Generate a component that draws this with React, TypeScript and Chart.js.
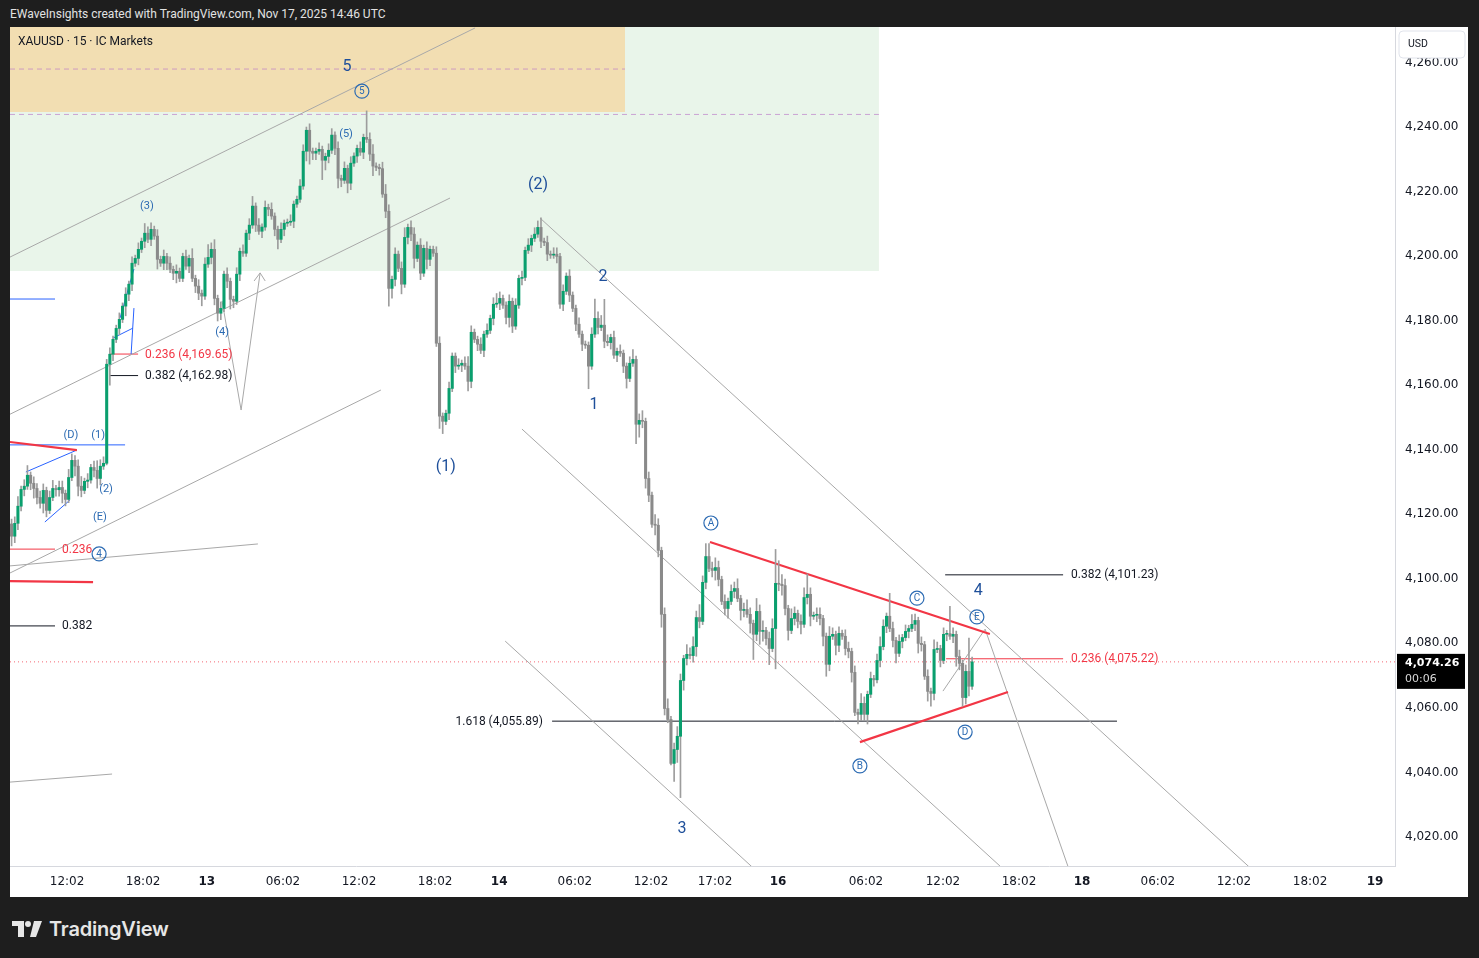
import React, { useEffect, useRef } from 'react';
import { Chart, registerables } from 'chart.js';

Chart.register(...registerables);

// ---------- data (15-minute XAUUSD candles, slot = bar index) ----------
const firstOpen = 4117.0;
const closes = [
  // A
  4113.2, 4117.2, 4122.5, 4127.7, 4128.7, 4132.1, 4129.6, 4128.0, 4125.2, 4123.4, 4127.4, 4121.2, 4125.2, 4128.0, 4127.6, 4128.3, 4126.5, 4124.6, 4131.4, 4136.7, 4134.9, 4128.7, 4127.4, 4130.2, 4130.6, 4134.5, 4133.6, 4131.1, 4134.9, 4135.8, 4166.5,
  // B
  4169.6, 4174.2, 4177.6, 4180.4, 4184.5, 4188.2, 4191.3, 4197.8, 4199.3, 4202.1, 4204.6, 4207.1, 4205.2, 4208.3, 4206.2, 4199.0, 4197.8, 4199.9, 4197.8, 4195.9, 4194.7, 4195.3, 4193.1, 4199.9,
  // C
  4196.9, 4199.3, 4193.1, 4190.7, 4188.5, 4187.6, 4197.5, 4199.6, 4202.1, 4186.9, 4182.3, 4183.8, 4194.4, 4192.2, 4186.6, 4186.0, 4194.4, 4201.5, 4200.9, 4207.1, 4209.6, 4215.5, 4209.6, 4207.7, 4209.0, 4215.1, 4214.5, 4212.4, 4208.3, 4205.2, 4208.3, 4210.2, 4210.5, 4210.8, 4216.1, 4217.6, 4221.7, 4232.5, 4239.0, 4232.5, 4231.9, 4232.5, 4233.1, 4229.7, 4230.9, 4232.8, 4237.5, 4233.4,
  // D
  4224.1, 4223.5, 4227.2, 4222.6, 4228.8, 4231.0, 4233.4, 4232.2, 4236.8, 4236.2, 4231.6, 4227.9, 4227.5, 4227.1, 4219.2, 4213.9, 4190.0, 4192.8, 4200.6, 4196.2, 4191.3, 4205.8, 4208.9, 4206.8, 4199.3, 4203.4, 4194.7, 4202.4, 4199.0, 4202.1, 4200.9, 4173.0, 4150.4, 4148.8, 4151.3, 4159.0, 4169.0, 4165.9, 4166.2, 4166.8, 4165.9, 4161.2, 4176.4, 4174.2, 4172.7, 4170.8, 4175.8, 4177.0, 4180.7, 4185.1, 4185.4, 4186.9, 4184.8, 4181.0,
  // E
  4186.0, 4178.3, 4184.8, 4193.1, 4193.4, 4201.8, 4203.4, 4205.5, 4206.8, 4208.9, 4204.6, 4204.2, 4200.6, 4200.3, 4200.6, 4199.9, 4185.1, 4189.1, 4193.8, 4187.9, 4183.8, 4178.9, 4175.8, 4172.7, 4172.4, 4165.9, 4175.8, 4180.7, 4177.9, 4178.6, 4173.6, 4173.2, 4174.8, 4169.3, 4170.5, 4169.9, 4165.9, 4162.1, 4166.8, 4168.0, 4147.9, 4149.1, 4148.8, 4131.1,
  // F
  4125.9, 4116.9, 4116.6, 4108.8, 4089.0, 4059.8, 4056.4, 4042.8, 4047.1, 4051.2, 4068.5, 4075.3, 4076.6, 4076.2, 4079.0, 4088.0, 4086.8, 4098.9, 4106.9, 4103.2, 4102.6, 4103.5, 4099.8, 4093.0, 4090.8, 4093.0, 4096.1,
  // G
  4097.0, 4093.9, 4090.2, 4090.5, 4089.0, 4086.2, 4082.8, 4089.9, 4083.7, 4084.0, 4081.5, 4078.4, 4084.6, 4098.6, 4098.3, 4097.9, 4090.8, 4084.0, 4087.7, 4089.3, 4086.8, 4085.9, 4094.2, 4095.2, 4088.4, 4088.7, 4089.0, 4087.7, 4082.2, 4073.5, 4082.2, 4082.8, 4079.4, 4083.1, 4082.2, 4078.4,
  // H
  4077.5, 4071.0, 4058.6, 4058.0, 4061.4, 4058.0, 4064.2, 4069.1, 4068.7, 4074.7, 4079.0, 4085.3, 4088.4, 4084.6, 4080.9, 4076.9, 4080.6, 4081.8, 4083.7, 4084.6, 4085.9, 4087.1, 4080.0, 4079.6, 4069.8, 4065.1, 4064.5, 4078.1, 4078.4, 4074.7, 4082.8, 4083.0, 4082.2, 4082.8, 4075.9, 4073.8, 4063.2, 4071.3, 4066.7, 4074.26,
];
const wickUp = [
  1.5, 2, 3, 1, 2, 3, 1, 2, 1.5, 2, 2, 1, 2, 2.5, 1, 2, 2, 1, 2.5, 2, 1.5, 2, 3, 1, 2, 1, 2, 3, 2, 2, 1.5,
  2, 1, 1, 2, 1, 2, 1, 2, 1, 2, 1, 3, 2, 2, 1, 2, 1, 2, 1, 2, 1, 2, 1, 1,
  2, 1, 3, 1, 2, 1, 2, 4, 2, 3, 1, 2, 1, 2, 1, 1, 2, 1, 2, 1, 2, 3, 1, 2, 1, 2, 1, 2, 1, 1, 2, 1, 1, 2, 1, 1, 2, 2, 1, 2, 1, 1, 2, 1, 1, 2, 2, 1,
  2, 1, 2, 1, 2, 1, 1, 2, 1, 8.2, 2, 3, 1, 1, 2, 3, 2, 1, 2, 1, 2, 3, 1, 2, 2, 1, 2, 1, 2, 1, 1, 2, 2, 1, 1, 2, 1, 1, 2, 1, 2, 3, 2, 1, 1, 2, 1, 2, 1, 2, 3, 2, 1, 1,
  2, 1, 2, 1, 2, 1, 2, 1, 2, 2, 3, 1, 2, 1, 2, 2, 1, 2, 1, 2, 1, 1, 2, 1, 1, 1, 2, 6, 2, 3, 8, 2, 1, 2, 1, 2, 1, 1, 2, 3, 1, 2, 3, 1,
  2, 1, 3, 2, 1, 2, 3, 1, 2, 3, 2, 1, 3, 2, 3, 2, 4, 2, 4, 4, 2, 3, 2, 1, 2, 1, 2,
  2, 3, 1, 2, 3, 2, 1, 4, 2, 3, 1, 2, 3, 10.5, 7, 3, 2, 1, 3, 2, 1, 2, 3, 6.3, 2, 1, 2, 2, 1, 1, 3, 2, 1, 2, 1, 2,
  2, 1, 2, 1, 3, 2, 1, 2, 1, 2, 3, 2, 1, 7.1, 2, 1, 2, 1, 2, 1, 3, 2, 1, 2, 1, 2, 1, 3, 2, 1, 2, 1, 8.5, 2, 1, 2, 1, 2, 10.3, 1.5,
];
const wickDn = [
  3, 2, 2, 1.5, 2, 1, 2, 3, 2, 1.5, 3, 2, 1, 1, 2, 2, 3, 2, 1, 1, 3, 3, 2, 1, 2, 1, 2, 3, 2, 1, 0.5,
  6.5, 2, 1, 2, 1, 3, 2, 2, 1, 2, 1, 2, 1, 2, 1, 3, 1, 2, 2, 1, 2, 3, 1, 1,
  1, 2, 1, 2, 2, 3, 1, 1, 2, 2, 2.4, 2, 1, 2, 3, 2, 1, 2, 1, 1, 2, 1, 2, 1, 2, 1, 2, 1, 2, 3, 1, 2, 1, 1, 2, 1, 1, 1, 3, 4, 2, 2, 1, 6, 3, 2, 1, 2,
  3, 2, 1, 3, 2, 1, 2, 1, 2, 1, 2, 3, 1, 2, 1, 2, 5.5, 3, 2, 1, 3, 1, 2, 2, 3, 1, 2, 1, 3, 2, 1, 1, 3.8, 3.8, 1, 2, 1, 2, 1, 2, 1, 3, 2, 1, 2, 1, 2, 1, 1, 2, 1, 2, 1, 2,
  3, 2, 1, 1, 2, 1, 1, 2, 1, 1, 2, 1, 2, 1, 1, 2, 1.3, 2, 1, 2, 1, 2, 1, 2, 1, 7, 1, 1, 2, 1, 2, 1, 2, 1, 2, 1, 2, 3, 1, 1, 6, 4, 2, 3,
  2, 1, 3, 2, 4, 2, 1, 0.5, 5.6, 4, 19, 3, 2, 1, 2, 3, 2, 1, 2, 1, 2, 3, 2, 1, 2, 3, 1,
  2, 1, 3, 2, 1, 3, 7.8, 2, 4, 3, 2, 5, 1, 12.5, 2, 3, 2, 3, 1, 2, 2, 3, 1, 2, 3, 1, 2, 2, 3, 3.7, 2, 1, 3, 2, 1, 2,
  2, 3, 1, 3, 2, 2, 3, 1, 2, 1, 2, 1, 2, 1, 2, 3, 1, 2, 1, 2, 1, 2, 3, 2, 1, 3, 4, 2, 1, 2, 1, 2, 1, 2, 3, 2, 2.7, 2, 3, 1,
];

const timeTickSlots = [18.0, 42.0, 62.1, 86.1, 110.1, 134.1, 154.3, 178.2, 202.2, 222.4, 242.3, 270.0, 294.3, 318.3, 338.2, 362.1, 386.1, 410.1, 430.6];
const timeTickLabels = ['12:02', '18:02', '13', '06:02', '12:02', '18:02', '14', '06:02', '12:02', '17:02', '16', '06:02', '12:02', '18:02', '18', '06:02', '12:02', '18:02', '19'];
const dayLabels = ['13', '14', '16', '18', '19'];
const priceTicks = [4020, 4040, 4060, 4080, 4100, 4120, 4140, 4160, 4180, 4200, 4220, 4240, 4260];
const priceMin = 4011.0;
const priceMax = 4271.0;
const slotMax = 436.9;
const lastPrice = 4074.26;
const countdown = '00:06';

// zones [x0, x1, priceLow, priceHigh]
const greenZone = [0, 274.1, 4195.4, 4290];
const orangeZone = [0, 194.0, 4244.65, 4290];
// dashed levels [x0, price, x1, price]
const dashedLevels = [
  [0, 4257.97, 194.0, 4257.97],
  [0, 4243.9, 274.1, 4243.9],
];
// segments [x0, p0, x1, p1]
const grayLines = [
  [0, 4199.7, 146.7, 4270.7],
  [0, 4151.0, 138.8, 4218.0],
  [0, 4101.8, 117.0, 4158.5],
  [0, 4104.0, 78.2, 4110.8],
  [0, 4037.0, 32.2, 4039.5],
  [66.9, 4186.1, 72.9, 4152.3],
  [72.9, 4152.3, 78.9, 4194.8],
  [78.9, 4194.8, 77.0, 4192.3],
  [78.9, 4194.8, 80.5, 4192.3],
  [167.2, 4211.8, 390.9, 4010.7],
  [161.5, 4146.4, 312.6, 4010.7],
  [156.2, 4080.7, 234.1, 4010.7],
  [294.3, 4065.2, 307.6, 4084.4],
  [307.6, 4084.4, 333.8, 4010.7],
];
const redThick = [
  [220.8, 4111.4, 309.1, 4082.9],
  [268.1, 4049.4, 314.8, 4064.9],
  [0, 4142.4, 21.1, 4139.9],
  [0, 4099.3, 26.2, 4099.0],
];
const redFib = [
  [31.5, 4169.65, 40.4, 4169.65],
  [0, 4109.2, 14.2, 4109.2],
  [295.3, 4075.22, 332.2, 4075.22],
];
const blackFib = [
  [31.5, 4162.98, 40.4, 4162.98],
  [0, 4085.4, 14.2, 4085.4],
  [171.0, 4055.89, 349.2, 4055.89],
  [295.0, 4101.23, 332.2, 4101.23],
];
const blueLines = [
  [0, 4186.7, 14.2, 4186.7],
  [0, 4141.5, 36.3, 4141.5],
  [5.0, 4133.1, 21.1, 4139.9],
  [11.0, 4117.6, 18.9, 4124.4],
  [34.7, 4180.8, 39.1, 4196.0],
  [32.5, 4174.6, 38.8, 4177.7],
  [39.1, 4183.9, 38.2, 4169.6],
];
// fib text [x, price, text, colour, align]
const fibTexts: any[] = [
  [42.6, 4169.65, '0.236 (4,169.65)', '#f23645', 'left'],
  [42.6, 4162.98, '0.382 (4,162.98)', '#131722', 'left'],
  [16.4, 4109.2, '0.236', '#f23645', 'left'],
  [16.4, 4085.4, '0.382', '#131722', 'left'],
  [168.1, 4055.89, '1.618 (4,055.89)', '#131722', 'right'],
  [334.7, 4101.23, '0.382 (4,101.23)', '#131722', 'left'],
  [334.7, 4075.22, '0.236 (4,075.22)', '#f23645', 'left'],
];
// wave labels [x, price, text]
const bigWaves: any[] = [
  [106.3, 4258.6, '5'], [166.6, 4222.0, '(2)'], [187.1, 4193.5, '2'], [184.2, 4153.9, '1'],
  [137.5, 4134.6, '(1)'], [212.0, 4022.5, '3'], [305.4, 4096.2, '4'],
];
const smallWaves: any[] = [
  [106.0, 4237.8, '(5)'], [43.2, 4215.5, '(3)'], [66.9, 4176.5, '(4)'], [19.2, 4144.6, '(D)'],
  [27.8, 4144.6, '(1)'], [30.3, 4127.8, '(2)'], [28.4, 4119.2, '(E)'],
];
const circledWaves: any[] = [
  [111.0, 4251.1, '5'], [28.1, 4107.7, '4'], [221.1, 4117.3, 'A'], [268.1, 4042.0, 'B'],
  [286.1, 4094.0, 'C'], [301.3, 4052.5, 'D'], [305.0, 4088.2, 'E'],
];

const UP = '#0a9f6e';
const DOWN = '#8a8a8a';
const WICK = '#9d9d9d';

function seg(s: number[], color: string, width = 1, dash: number[] = [], order = 5) {
  return {
    type: 'line',
    data: [{ x: s[0], y: s[1] }, { x: s[2], y: s[3] }],
    borderColor: color,
    borderWidth: width,
    borderDash: dash,
    pointRadius: 0,
    pointHoverRadius: 0,
    fill: false,
    tension: 0,
    order,
  };
}

function zone(z: number[], color: string, order: number) {
  return {
    type: 'line',
    data: [{ x: z[0], y: z[3] }, { x: z[1], y: z[3] }],
    borderWidth: 0,
    borderColor: 'rgba(0,0,0,0)',
    backgroundColor: color,
    pointRadius: 0,
    pointHoverRadius: 0,
    fill: { value: z[2] },
    order,
  };
}

const overlayPlugin = {
  id: 'overlay',
  afterDatasetsDraw(chart: any) {
    const { ctx, scales } = chart;
    const X = (v: number) => scales.x.getPixelForValue(v);
    const Y = (v: number) => scales.y.getPixelForValue(v);
    ctx.save();
    ctx.textBaseline = 'middle';
    ctx.textAlign = 'left';
    ctx.fillStyle = '#131722';
    ctx.font = '12px Roboto';
    ctx.fillText('XAUUSD · 15 · IC Markets', 8, 15);

    ctx.font = '12px Roboto';
    fibTexts.forEach(([x, p, t, c, a]) => {
      ctx.fillStyle = c;
      ctx.textAlign = a;
      ctx.fillText(t, X(x), Y(p) + 0.5);
    });

    ctx.textAlign = 'center';
    ctx.fillStyle = '#1e4f9a';
    ctx.font = '16px Roboto';
    bigWaves.forEach(([x, p, t]) => ctx.fillText(t, X(x), Y(p)));
    ctx.fillStyle = '#2c6bb3';
    ctx.font = '11px Roboto';
    smallWaves.forEach(([x, p, t]) => ctx.fillText(t, X(x), Y(p)));
    circledWaves.forEach(([x, p, t]) => {
      const cx = X(x), cy = Y(p);
      ctx.beginPath();
      ctx.arc(cx, cy, 7, 0, Math.PI * 2);
      ctx.strokeStyle = '#2c6bb3';
      ctx.lineWidth = 1.2;
      ctx.stroke();
      ctx.fillStyle = '#2c6bb3';
      ctx.font = '10px Roboto';
      ctx.fillText(t, cx, cy + 0.5);
    });
    ctx.restore();
  },
  afterDraw(chart: any) {
    const { ctx, scales, chartArea } = chart;
    const py = scales.y.getPixelForValue(lastPrice);
    ctx.save();
    // USD box
    const bx = chartArea.right + 4, by = 4, bw = 66, bh = 27;
    ctx.beginPath();
    ctx.roundRect(bx, by, bw, bh, 4);
    ctx.fillStyle = '#ffffff';
    ctx.fill();
    ctx.strokeStyle = '#e0e3eb';
    ctx.lineWidth = 1;
    ctx.stroke();
    ctx.fillStyle = '#131722';
    ctx.font = '10.5px Roboto';
    ctx.textBaseline = 'middle';
    ctx.textAlign = 'left';
    ctx.fillText('USD', bx + 9, by + 13);
    // last price box
    ctx.fillStyle = '#000000';
    ctx.fillRect(chartArea.right + 2, py - 8, 68, 35);
    ctx.fillStyle = '#ffffff';
    ctx.font = 'bold 11px "DejaVu Sans"';
    ctx.fillText(lastPrice.toLocaleString('en-US', { minimumFractionDigits: 2 }), chartArea.right + 10, py + 1);
    ctx.fillStyle = '#d8d8d8';
    ctx.font = '11px "DejaVu Sans"';
    ctx.fillText(countdown, chartArea.right + 10, py + 17);
    ctx.restore();
  },
};

export default function App() {
  const ref = useRef<HTMLCanvasElement>(null);
  useEffect(() => {
    if (!ref.current) return;
    const opens = closes.map((c, i) => (i === 0 ? firstOpen : closes[i - 1]));
    const bodies = closes.map((c, i) => ({ x: i + 0.5, y: [opens[i], c] }));
    const wicks = closes.map((c, i) => ({
      x: i + 0.5,
      y: [Math.min(opens[i], c) - (wickDn[i] ?? 1), Math.max(opens[i], c) + (wickUp[i] ?? 1)],
    }));
    const bodyColors = closes.map((c, i) => (c >= opens[i] ? UP : DOWN));

    const datasets: any[] = [
      zone(greenZone, '#e9f5ea', 30),
      zone(orangeZone, '#f2deb2', 29),
      ...dashedLevels.map((s) => seg(s, 'rgba(186,120,200,0.65)', 1, [5, 4], 20)),
      ...grayLines.map((s) => seg(s, '#a8a8a8', 1)),
      ...blueLines.map((s) => seg(s, '#2962ff', 1)),
      ...redFib.map((s) => seg(s, '#f23645', 1)),
      ...blackFib.map((s) => seg(s, '#131722', 1)),
      ...redThick.map((s) => seg(s, '#f23645', 2.2, [], 4)),
      seg([0, lastPrice, slotMax, lastPrice], 'rgba(242,54,69,0.75)', 1, [1, 3], 6),
      {
        type: 'bar',
        data: wicks,
        backgroundColor: WICK,
        barThickness: 1,
        grouped: false,
        order: 2,
      },
      {
        type: 'bar',
        data: bodies,
        backgroundColor: bodyColors,
        barThickness: 2.4,
        minBarLength: 1,
        grouped: false,
        order: 1,
      },
    ];

    const chart = new Chart(ref.current, {
      type: 'bar',
      data: { datasets },
      options: {
        animation: false,
        responsive: false,
        maintainAspectRatio: false,
        layout: { padding: 0, autoPadding: false },
        events: [],
        plugins: { legend: { display: false }, tooltip: { enabled: false } },
        scales: {
          x: {
            type: 'linear',
            min: 0,
            max: slotMax,
            offset: false,
            grid: { display: false, drawTicks: false },
            border: { display: true, color: '#d6d8de' },
            ticks: {
              autoSkip: false,
              maxRotation: 0,
              padding: 9,
              color: '#131722',
              font: (ctx: any) => ({
                family: '"DejaVu Sans"',
                size: 12,
                weight: dayLabels.includes(timeTickLabels[ctx.index]) ? 'bold' : 'normal',
              }),
              callback: (_v: any, i: number) => timeTickLabels[i] ?? '',
            },
            afterBuildTicks: (s: any) => {
              s.ticks = timeTickSlots.map((v) => ({ value: v }));
            },
            afterFit: (s: any) => {
              s.height = 31;
              s.paddingLeft = 0;
              s.paddingRight = 0;
            },
          },
          y: {
            type: 'linear',
            position: 'right',
            min: priceMin,
            max: priceMax,
            grid: { display: false, drawTicks: false },
            border: { display: true, color: '#d6d8de' },
            ticks: {
              padding: 10,
              color: '#131722',
              font: { family: '"DejaVu Sans"', size: 12 },
              callback: (v: any) => Number(v).toLocaleString('en-US', { minimumFractionDigits: 2, maximumFractionDigits: 2 }),
            },
            afterBuildTicks: (s: any) => {
              s.ticks = priceTicks.map((v) => ({ value: v }));
            },
            afterFit: (s: any) => {
              s.width = 73;
              s.paddingTop = 0;
              s.paddingBottom = 0;
            },
          },
        },
      } as any,
      plugins: [overlayPlugin],
    } as any);
    return () => chart.destroy();
  }, []);

  return (
    <div style={{ position: 'fixed', left: 0, top: 0, width: 1479, height: 958, background: '#1e1e1e', overflow: 'hidden' }}>
      <div style={{ position: 'absolute', left: 10, top: 6, color: '#e2e2e2', fontFamily: 'Roboto', fontSize: 12, lineHeight: '16px', whiteSpace: 'nowrap' }}>
        EWaveInsights created with TradingView.com, Nov 17, 2025 14:46 UTC
      </div>
      <div style={{ position: 'absolute', left: 10, top: 27, width: 1458, height: 870, background: '#ffffff' }}>
        <canvas ref={ref} width={1458} height={870} style={{ display: 'block', width: 1458, height: 870 }} />
      </div>
      <div style={{ position: 'absolute', left: 12, top: 917, display: 'flex', alignItems: 'center' }}>
        <svg width="30" height="16" viewBox="0 0 30 16">
          <path d="M0 0h12v16H6V5H0z" fill="#e6e6e6" />
          <circle cx="16" cy="3" r="3" fill="#e6e6e6" />
          <path d="M22 0h8l-6 16h-6z" fill="#e6e6e6" />
        </svg>
        <span style={{ marginLeft: 7, color: '#e6e6e6', fontFamily: 'Inter', fontWeight: 600, fontSize: 20, letterSpacing: '-0.2px' }}>TradingView</span>
      </div>
    </div>
  );
}
